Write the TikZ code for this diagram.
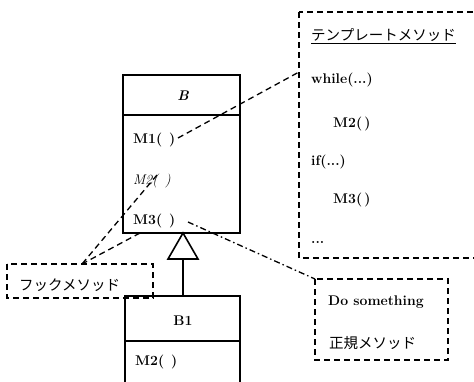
\documentclass[tikz,border=0pt]{standalone}
\usepackage{fontspec}
\newfontfamily\jp{Noto Sans CJK JP}
\begin{document}
\begin{tikzpicture}[x=1pt,y=-1pt,
  cls/.style={draw,line width=1.6pt},
  note/.style={draw,line width=1.3pt,dash pattern=on 6pt off 4pt},
  lnk/.style={line width=1.3pt,dash pattern=on 6pt off 4pt},
  lnkdd/.style={line width=1.3pt,dash pattern=on 6pt off 3pt on 1.5pt off 3pt},
  txt/.style={inner sep=0pt,anchor=west,font=\fontsize{14}{16}\selectfont\bfseries},
  jtxt/.style={inner sep=0pt,anchor=west,font=\fontsize{14.5}{16}\selectfont\jp}]
\useasboundingbox (0,0) rectangle (474,381);
% class B
\draw[cls] (123,75) rectangle (240,233);
\draw[cls] (123,115) -- (240,115);
\node[inner sep=0pt,font=\fontsize{14}{16}\selectfont\bfseries\itshape] (b) at (183,96) {B};
\node[txt] (m1) at (133,140) {M1(\hspace{7pt})};
\node[txt,font=\fontsize{14}{16}\selectfont\itshape] (m2) at (133,181) {M2(\hspace{7pt})};
\node[txt] (m3) at (133,221) {M3(\hspace{7pt})};
% inheritance
\coordinate (apex) at (183,233);
\coordinate (base) at (183,259);
\draw[cls,fill=white] (apex) -- (168,259) -- (198,259) -- cycle;
% class B1
\draw[cls] (125,296) rectangle (240,395);
\draw[cls] (125,341) -- (240,341);
\coordinate (b1top) at (183,296);
\draw[cls] (base) -- (b1top);
\node[inner sep=0pt,font=\fontsize{14}{16}\selectfont\bfseries] (b1) at (183,321) {B1};
\node[txt] (m2b) at (135,362) {M2(\hspace{7pt})};
% template box
\draw[note] (299,12) rectangle (485,258);
\node[jtxt] (tm) at (311,36) {\underline{テンプレートメソッド}};
\node[txt] (wh) at (311,80) {while(...)};
\node[txt] (tm2) at (333,124) {M2(\,)};
\node[txt] (if) at (311,162) {if(...)};
\node[txt] (tm3) at (333,200) {M3(\,)};
\node[txt] (dots) at (311,242) {...};
% hook box
\draw[note] (7,264) rectangle (153,298);
\node[jtxt] (hook) at (19,285) {フックメソッド};
% do something box
\draw[note] (315,279) rectangle (448,360);
\node[txt] (ds) at (328,302) {Do something};
\node[jtxt] (reg) at (329,343) {正規メソッド};
% connectors
\coordinate (c1a) at (178,138);
\coordinate (c1b) at (299,72);
\coordinate (hk) at (82,264);
\coordinate (c2a) at (157,175);
\coordinate (c3a) at (140,233);
\coordinate (c4a) at (188,222);
\coordinate (c4b) at (315,279);
\draw[lnk] (c1a) -- (c1b);
\draw[lnk] (c2a) -- (hk);
\draw[lnk] (c3a) -- (hk);
\draw[lnkdd] (c4a) -- (c4b);
\end{tikzpicture}
\end{document}
